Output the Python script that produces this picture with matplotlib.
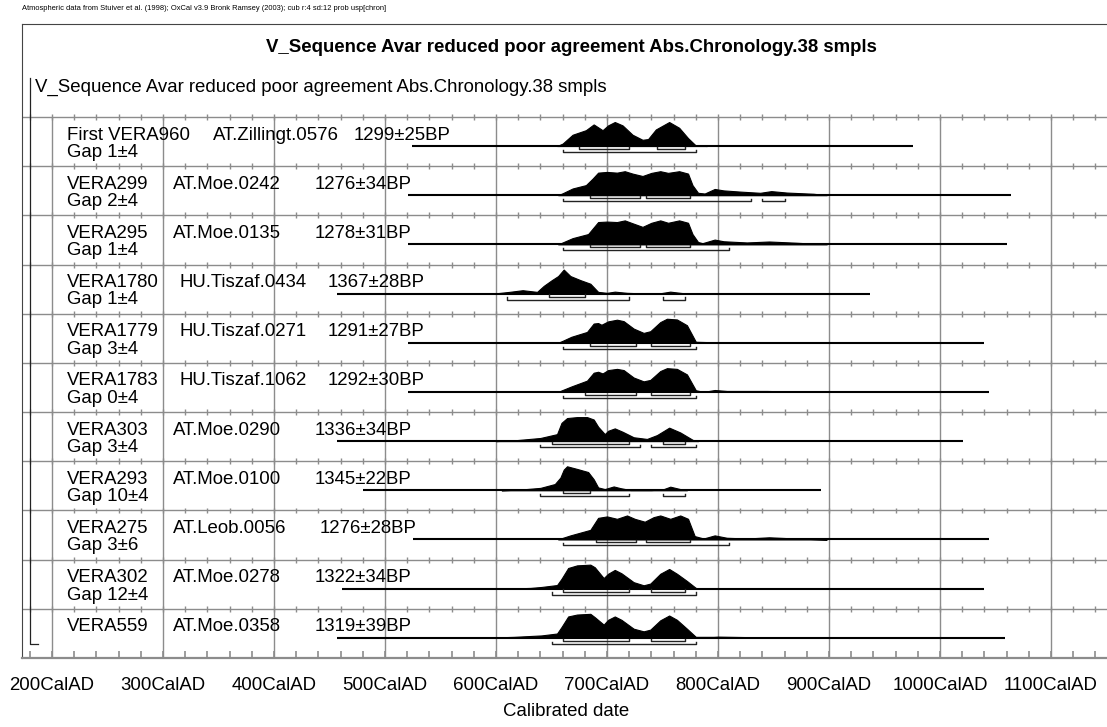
import numpy as np
import matplotlib.pyplot as plt

plt.rcParams['font.family'] = ['Liberation Sans', 'DejaVu Sans']

title = "V_Sequence Avar reduced poor agreement Abs.Chronology.38 smpls"
credit = ("Atmospheric data from Stuiver et al. (1998); OxCal v3.9 Bronk Ramsey (2003); "
          "cub r:4 sd:12 prob usp[chron]")

names = ["First VERA960", "VERA299", "VERA295", "VERA1780", "VERA1779", "VERA1783",
         "VERA303", "VERA293", "VERA275", "VERA302", "VERA559"]
gaps = ["Gap 1±4", "Gap 2±4", "Gap 1±4", "Gap 1±4", "Gap 3±4", "Gap 0±4",
        "Gap 3±4", "Gap 10±4", "Gap 3±6", "Gap 12±4", ""]
labs = ["AT.Zillingt.0576", "AT.Moe.0242", "AT.Moe.0135", "HU.Tiszaf.0434", "HU.Tiszaf.0271",
        "HU.Tiszaf.1062", "AT.Moe.0290", "AT.Moe.0100", "AT.Leob.0056", "AT.Moe.0278", "AT.Moe.0358"]
dates = ["1299±25BP", "1276±34BP", "1278±31BP", "1367±28BP", "1291±27BP", "1292±30BP",
         "1336±34BP", "1345±22BP", "1276±28BP", "1322±34BP", "1319±39BP"]

# calendar range of the (unmodelled) likelihood line, cal AD
line_from = [524, 521, 521, 457, 521, 521, 457, 480, 525, 461, 457]
line_to = [976, 1064, 1060, 937, 1040, 1044, 1021, 893, 1044, 1040, 1059]

# posterior outlines: (year, relative height)
post_t = [
    [655, 660, 669, 681, 688, 696, 701, 707, 714, 723, 732, 737, 744, 756, 765, 773, 780, 790],
    [656, 660, 669, 681, 687, 692, 700, 709, 716, 723, 732, 740, 748, 755, 765, 773, 777, 782, 788,
     797, 805, 820, 838, 848, 862, 886, 898],
    [656, 660, 669, 683, 692, 700, 709, 716, 723, 732, 740, 748, 755, 765, 773, 777, 782, 786, 797,
     805, 826, 846, 870, 898],
    [598, 612, 624, 637, 643, 650, 656, 661, 667, 676, 685, 692, 700, 707, 718, 736, 749, 757, 766, 772],
    [656, 660, 668, 682, 688, 692, 695, 701, 709, 715, 724, 733, 739, 748, 754, 763, 772, 780, 796,
     856, 870],
    [656, 660, 668, 682, 688, 692, 696, 701, 709, 715, 724, 733, 739, 748, 754, 763, 772, 780, 787,
     797, 808, 844, 886],
    [600, 616, 640, 655, 659, 664, 673, 682, 688, 692, 698, 701, 707, 714, 724, 736, 745, 756, 766,
     778, 782],
    [605, 622, 640, 653, 658, 661, 664, 673, 683, 688, 692, 698, 706, 712, 721, 740, 750, 757, 766, 772],
    [656, 659, 667, 685, 692, 700, 709, 718, 725, 734, 742, 748, 757, 766, 773, 779, 787, 797, 808,
     826, 846, 870, 898],
    [610, 631, 641, 655, 659, 665, 673, 685, 689, 697, 701, 707, 713, 724, 733, 739, 748, 756, 763,
     772, 780, 784],
    [586, 616, 641, 655, 659, 665, 673, 685, 689, 697, 701, 707, 713, 724, 733, 739, 748, 756, 763,
     772, 780, 796, 800, 826, 856, 886],
]
post_h = [
    [0, 0.1, 0.47, 0.66, 0.9, 0.66, 0.86, 1.0, 0.86, 0.47, 0.26, 0.29, 0.69, 1.0, 0.76, 0.33, 0.02, 0],
    [0, 0.08, 0.28, 0.42, 0.69, 0.94, 0.97, 0.94, 1.0, 0.9, 0.8, 0.93, 1.0, 0.93, 1.0, 0.9, 0.42, 0.1,
     0.07, 0.26, 0.2, 0.15, 0.1, 0.17, 0.11, 0.06, 0],
    [0, 0.08, 0.26, 0.43, 0.93, 0.95, 0.93, 1.0, 0.88, 0.73, 0.9, 1.0, 0.9, 1.0, 0.9, 0.43, 0.1, 0.05,
     0.2, 0.13, 0.08, 0.12, 0.07, 0],
    [0, 0.07, 0.14, 0.07, 0.32, 0.55, 0.73, 1.0, 0.73, 0.56, 0.41, 0.07, 0.03, 0.08, 0.03, 0, 0.02,
     0.08, 0.03, 0],
    [0, 0.08, 0.25, 0.45, 0.8, 0.82, 0.75, 0.89, 0.96, 0.9, 0.59, 0.41, 0.48, 0.86, 1.0, 0.97, 0.73,
     0.04, 0.02, 0.02, 0],
    [0, 0.08, 0.23, 0.47, 0.8, 0.84, 0.77, 0.91, 0.96, 0.91, 0.6, 0.44, 0.5, 0.87, 0.99, 0.96, 0.73,
     0.07, 0.0, 0.08, 0.04, 0.04, 0],
    [0, 0.03, 0.13, 0.29, 0.76, 0.96, 1.0, 1.0, 0.9, 0.6, 0.29, 0.43, 0.53, 0.39, 0.16, 0.09, 0.25,
     0.56, 0.36, 0.03, 0],
    [0, 0.03, 0.1, 0.26, 0.53, 0.86, 1.0, 0.89, 0.76, 0.46, 0.12, 0.05, 0.16, 0.09, 0.01, 0.01, 0.03,
     0.15, 0.05, 0],
    [0, 0.05, 0.17, 0.4, 0.9, 0.96, 0.86, 1.0, 0.86, 0.74, 0.93, 1.0, 0.86, 1.0, 0.86, 0.14, 0.04,
     0.17, 0.07, 0.04, 0.09, 0.04, 0],
    [0, 0.03, 0.07, 0.15, 0.41, 0.86, 0.97, 1.0, 0.89, 0.44, 0.62, 0.78, 0.64, 0.27, 0.14, 0.21, 0.62,
     0.82, 0.62, 0.32, 0.03, 0],
    [0, 0.04, 0.1, 0.18, 0.45, 0.89, 0.97, 1.0, 0.86, 0.55, 0.75, 0.89, 0.75, 0.38, 0.27, 0.34, 0.73,
     0.93, 0.75, 0.38, 0.04, 0.04, 0.05, 0.03, 0.03, 0],
]

# highest posterior density ranges
r68 = [[(675, 720), (745, 770)], [(685, 730), (735, 775)], [(685, 730), (735, 775)], [(648, 680)],
       [(685, 726), (740, 775)], [(680, 726), (740, 775)], [(650, 720), (750, 770)], [(660, 685)],
       [(690, 726), (735, 775)], [(660, 720), (740, 770)], [(660, 720), (740, 770)]]
r95 = [[(660, 780)], [(660, 830), (840, 860)], [(660, 810)], [(610, 720), (750, 770)], [(660, 780)],
       [(660, 780)], [(640, 730), (740, 780)], [(640, 720), (750, 770)], [(660, 810)], [(650, 780)],
       [(650, 780)]]

# text column positions (cal years)
name_x = [213.5] * 11
lab_x = [345, 309, 309, 315, 315, 315, 309, 309, 309, 309, 309]
date_x = [472, 437, 437, 448.6, 448.6, 448.6, 437, 437, 441.4, 437, 437]

W, H = 1107, 727
fs = 13.4
fig = plt.figure(figsize=(W / 100, H / 100), dpi=100)
ax = fig.add_axes([22 / W, 69 / H, 1085 / W, 634 / H])
row_px = 49.18
ax.set_xlim(172.97, 1150.45)
ax.set_ylim(0, 634 / row_px)

grid = '#8c8c8c'
n = len(names)
minor = np.arange(180, 1150, 20)

# row separators with small ticks
for k in range(1, n + 1):
    ax.axhline(k, color=grid, lw=1.0, zorder=1)
    ax.vlines(minor, k - 0.06, k + 0.06, color=grid, lw=1.0, zorder=1)
# century grid
ax.vlines(np.arange(200, 1101, 100), 0, n, color=grid, lw=1.0, zorder=1)

# sequence bracket
ax.plot([180.2, 180.2, 187.4], [(658 - 78) / row_px, 0.285, 0.285], color='#222', lw=0.9, zorder=2)

peak = 24 / row_px
for i in range(n):
    top = n - i
    base = top - 29 / row_px
    ax.text(name_x[i], top - 0.366, names[i], fontsize=fs, va='center', ha='left', zorder=4)
    ax.text(lab_x[i], top - 0.366, labs[i], fontsize=fs, va='center', ha='left', zorder=4)
    ax.text(date_x[i], top - 0.366, dates[i], fontsize=fs, va='center', ha='left', zorder=4)
    if gaps[i]:
        ax.text(name_x[i], top - 0.72, gaps[i], fontsize=fs, va='center', ha='left', zorder=4)
    ax.plot([line_from[i], line_to[i]], [base, base], color='black', lw=1.5, zorder=3,
            solid_capstyle='butt')
    t = np.array(post_t[i])
    h = np.array(post_h[i])
    ax.fill_between(t, base, base + h * peak, color='black', lw=0.8, zorder=3)
    for rng, off in ((r68[i], 3), (r95[i], 6)):
        yb = base - off / row_px
        for a, b in rng:
            ax.plot([a, a, b, b], [yb + 0.045, yb, yb, yb + 0.045], color='#222', lw=1.0, zorder=3)

ax.set_yticks([])
ax.set_xticks(np.arange(200, 1101, 100))
ax.set_xticklabels([f"{v}CalAD" for v in range(200, 1101, 100)])
ax.set_xticks(minor, minor=True)
ax.tick_params(axis='x', which='both', direction='in', length=5, color=grid, width=1.2,
               labelsize=fs, pad=14)
ax.spines['right'].set_visible(False)
ax.spines['top'].set_color('#444')
ax.spines['left'].set_color('#444')
ax.spines['bottom'].set_color(grid)
ax.spines['bottom'].set_linewidth(1.6)

fig.text(571 / W, 1 - 47 / H, title, fontsize=fs, fontweight='bold', ha='center', va='center')
fig.text(35 / W, 1 - 87 / H, title, fontsize=fs, ha='left', va='center')
fig.text(22 / W, 1 - 9 / H, credit, fontsize=5.45, ha='left', va='center')
fig.text(566 / W, 1 - 712 / H, "Calibrated date", fontsize=fs, ha='center', va='center')

fig.savefig('out.png', dpi=100)
